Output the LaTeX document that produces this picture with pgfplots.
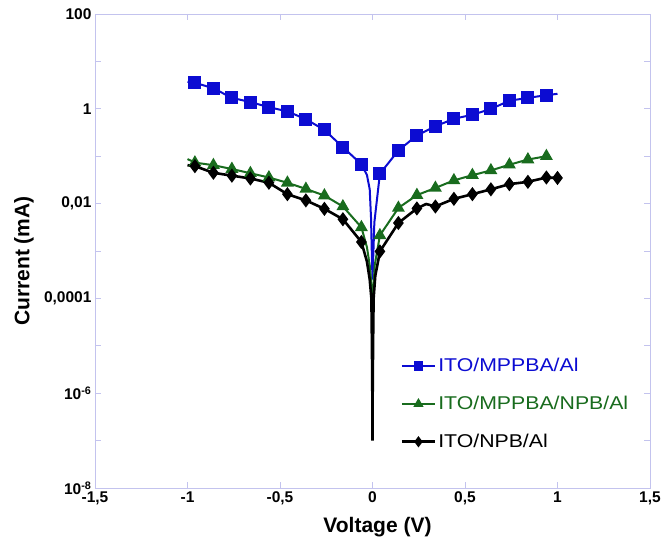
\documentclass[border=0pt]{standalone}
\usepackage{pgfplots}
\pgfplotsset{compat=1.18}
\usepackage{fontspec}
\setmainfont{Liberation Sans}
\newfontfamily\legfont{Liberation Sans}[FakeStretch=1.15]
\definecolor{cblue}{RGB}{12,12,210}
\definecolor{cgreen}{RGB}{25,108,30}
\definecolor{caxis}{RGB}{195,195,238}
\begin{document}
\begin{tikzpicture}
\begin{axis}[
  scale only axis, width=555bp, height=474bp,
  xmin=-1.5, xmax=1.5, ymin=1e-8, ymax=100, ymode=log,
  xtick={-1.5,-1,-0.5,0,0.5,1,1.5},
  xticklabels={{-1,5},{-1},{-0,5},{0},{0,5},{1},{1,5}},
  ytick={1e-8,1e-7,1e-6,1e-5,1e-4,1e-3,1e-2,1e-1,1,10,100},
  yticklabels={{10\textsuperscript{-8}},{},{10\textsuperscript{-6}},{},{0,0001},{},{0,01},{},{1},{},{100}},
  xminorticks=false, yminorticks=false,
  axis line style={caxis, line width=0.8bp},
  every tick/.style={caxis, line width=0.8bp},
  major tick length=6bp, tick align=inside,
  ticklabel style={font=\fontsize{15.5bp}{18bp}\selectfont\bfseries},
  xticklabel style={inner xsep=0pt},
  xlabel={Voltage (V)}, ylabel={Current (mA)},
  label style={font=\fontsize{21bp}{24bp}\selectfont\bfseries},
  xlabel style={at={(axis description cs:0.509,-0.082)}, anchor=center},
  ylabel style={at={(axis description cs:-0.128,0.479)}, anchor=center},
  legend style={at={(axis description cs:0.545,0.282)}, anchor=north west,
    draw=none, fill=none, row sep=19bp,
    font=\legfont\fontsize{18.5bp}{20bp}\selectfont},
  legend cell align=left,
  legend image code/.code={\draw[#1, mark indices={2}, /tikz/every mark/.append style={scale=0.7}] plot coordinates {(0bp,0bp)(16.5bp,0bp)(33bp,0bp)};},
]
\addplot[cblue, line width=2bp, mark=square*, mark size=5.5bp, mark options={solid, fill=cblue},
  mark indices={2,3,4,5,6,7,8,9,10,11,19,20,21,22,23,24,25,26,27,28}] coordinates {
  (-1,3.72) (-0.96,3.54) (-0.86,2.71) (-0.76,1.70) (-0.66,1.39) (-0.56,1.08)
  (-0.46,0.883) (-0.36,0.603) (-0.26,0.358) (-0.16,0.155) (-0.06,0.0676)
  (-0.03,0.04) (-0.015,0.02) (-0.008,0.005) (-0.004,0.001) (0,0.00025)
  (0.005,0.001) (0.01,0.004) (0.04,0.0427)
  (0.14,0.132) (0.24,0.275) (0.34,0.427) (0.44,0.617) (0.54,0.748)
  (0.64,0.993) (0.74,1.48) (0.84,1.70) (0.94,1.94) (1.0,2.07)
};
\addlegendentry{\textcolor{cblue}{ITO/MPPBA/Al}}
\addplot[cgreen, line width=2bp, mark=triangle*, mark size=5.5bp, mark options={solid, fill=cgreen},
  mark indices={2,3,4,5,6,7,8,9,10,11,19,20,21,22,23,24,25,26,27,28}] coordinates {
  (-1,0.0871) (-0.96,0.0733) (-0.86,0.0646) (-0.76,0.0537) (-0.66,0.0437) (-0.56,0.0355)
  (-0.46,0.0275) (-0.36,0.0204) (-0.26,0.0148) (-0.16,0.0087) (-0.06,0.00316)
  (-0.03,0.0012) (-0.015,0.0005) (-0.006,0.0002) (-0.002,0.00012) (0,0.0001)
  (0.005,0.00015) (0.012,0.0005) (0.04,0.00214)
  (0.14,0.0081) (0.24,0.0151) (0.34,0.0214) (0.44,0.0309) (0.54,0.0398)
  (0.64,0.0501) (0.74,0.0661) (0.84,0.0851) (0.94,0.1)
};
\addlegendentry{\textcolor{cgreen}{ITO/MPPBA/NPB/Al}}
\addplot[black, line width=2.6bp, mark=diamond*, mark size=5bp, mark options={solid, fill=black},
  mark indices={2,3,4,5,6,7,8,9,10,11,23,24,25,27,28,29,30,31,32,33,34}] coordinates {
  (-1,0.0646) (-0.96,0.0617) (-0.86,0.0447) (-0.76,0.0389) (-0.66,0.0339) (-0.56,0.0275)
  (-0.46,0.0158) (-0.36,0.0117) (-0.26,0.00776) (-0.16,0.00468) (-0.06,0.00155)
  (-0.03,0.0006) (-0.015,0.00025) (-0.006,0.0001) (-0.003,0.00001) (-0.001,0.000001)
  (0,0.0000001)
  (0.001,0.000001) (0.003,0.00001) (0.006,0.0001) (0.015,0.0003) (0.03,0.0006)
  (0.04,0.00098) (0.14,0.0039) (0.24,0.0079) (0.29,0.0098) (0.34,0.0087) (0.44,0.0126)
  (0.54,0.0158) (0.64,0.02) (0.74,0.0257) (0.84,0.0288) (0.94,0.0355) (1.0,0.0347)
};
\addlegendentry{ITO/NPB/Al}
\end{axis}
\pgfresetboundingbox
\path (current axis.south west) ++(-95bp,-51bp) rectangle ++(662bp,539bp);
\end{tikzpicture}
\end{document}
